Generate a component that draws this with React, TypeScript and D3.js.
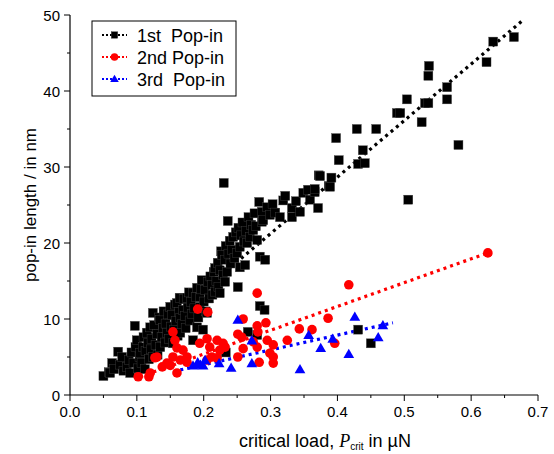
import React from "react";
import { scaleLinear, line, symbol, symbolTriangle, range } from "d3";

// data: [critical load in µN, pop-in length in nm]
const firstPopIn: [number, number][] = [
  [0.050, 2.5], [0.058, 3.0], [0.060, 2.9], [0.063, 4.2], [0.066, 3.4], [0.072, 5.7], [0.075, 4.0],
  [0.078, 5.0], [0.080, 3.2], [0.085, 3.7], [0.088, 4.6], [0.090, 2.9], [0.092, 5.6], [0.095, 4.2],
  [0.097, 9.1], [0.098, 6.3], [0.100, 7.2], [0.102, 3.5], [0.104, 5.0], [0.105, 5.5], [0.107, 4.2],
  [0.109, 6.3], [0.110, 7.6], [0.112, 3.4], [0.113, 5.8], [0.115, 8.2], [0.117, 6.8], [0.118, 4.7],
  [0.120, 8.9], [0.121, 6.0], [0.122, 7.4], [0.124, 10.8], [0.124, 5.0], [0.126, 9.2], [0.128, 6.6],
  [0.130, 8.0], [0.131, 5.3], [0.133, 10.2], [0.135, 9.9], [0.135, 6.3], [0.137, 7.6], [0.139, 8.8],
  [0.140, 11.0], [0.142, 6.9], [0.143, 9.4], [0.145, 8.2], [0.147, 10.6], [0.148, 7.4], [0.150, 11.6],
  [0.151, 9.0], [0.153, 10.5], [0.154, 6.8], [0.156, 8.6], [0.157, 11.9], [0.158, 9.7], [0.160, 12.1],
  [0.161, 7.8], [0.163, 10.9], [0.164, 12.8], [0.165, 8.2], [0.165, 10.1], [0.167, 9.3], [0.169, 11.2],
  [0.170, 12.6], [0.172, 10.4], [0.173, 8.8], [0.175, 12.8], [0.176, 11.5], [0.178, 13.5], [0.179, 9.8],
  [0.181, 12.2], [0.182, 10.7], [0.184, 13.4], [0.184, 7.2], [0.186, 11.4], [0.188, 12.9], [0.190, 14.1],
  [0.190, 8.9], [0.192, 10.2], [0.194, 12.9], [0.194, 11.6], [0.196, 13.9], [0.197, 15.1], [0.199, 8.6],
  [0.200, 12.3], [0.202, 13.8], [0.203, 11.0], [0.205, 10.8], [0.206, 14.9], [0.208, 12.7], [0.210, 15.6],
  [0.212, 14.5], [0.213, 13.2], [0.215, 16.2], [0.217, 13.6], [0.217, 16.7], [0.219, 15.0], [0.221, 17.4],
  [0.222, 14.2], [0.224, 16.4], [0.224, 13.4], [0.226, 18.9], [0.227, 18.4], [0.229, 15.8], [0.230, 27.9],
  [0.232, 17.8], [0.232, 14.9], [0.233, 19.6], [0.233, 5.6], [0.235, 16.2], [0.236, 22.9], [0.237, 18.6],
  [0.239, 20.3], [0.240, 17.3], [0.242, 19.1], [0.244, 20.8], [0.246, 18.0], [0.248, 21.4], [0.250, 18.7],
  [0.251, 14.2], [0.252, 22.0], [0.254, 19.5], [0.254, 16.8], [0.256, 21.0], [0.258, 22.7], [0.260, 20.2],
  [0.262, 17.1], [0.263, 21.6], [0.265, 20.0], [0.266, 8.3], [0.267, 23.4], [0.269, 20.8], [0.271, 22.4],
  [0.274, 21.7], [0.276, 23.9], [0.278, 22.2], [0.280, 20.4], [0.280, 7.9], [0.283, 25.4], [0.284, 18.2],
  [0.284, 11.7], [0.287, 24.1], [0.287, 22.8], [0.289, 23.0], [0.291, 11.2], [0.292, 17.8], [0.295, 24.7],
  [0.299, 23.7], [0.303, 25.1], [0.307, 24.0], [0.314, 23.4], [0.319, 25.6], [0.322, 26.2], [0.332, 24.6],
  [0.332, 23.4], [0.338, 25.5], [0.344, 24.1], [0.349, 26.6], [0.356, 27.0], [0.359, 25.7], [0.366, 26.7],
  [0.366, 27.1], [0.371, 24.6], [0.372, 28.9], [0.374, 28.8], [0.387, 27.5], [0.389, 27.4], [0.391, 28.6],
  [0.398, 33.8], [0.402, 30.9], [0.429, 35.0], [0.431, 30.4], [0.438, 32.2], [0.441, 30.5], [0.458, 35.0],
  [0.489, 37.1], [0.494, 37.1], [0.504, 38.9], [0.506, 25.7], [0.526, 35.9], [0.531, 38.4], [0.536, 38.4],
  [0.536, 42.0], [0.537, 43.3], [0.564, 38.9], [0.564, 40.5], [0.581, 32.9], [0.623, 43.8], [0.633, 46.5],
  [0.664, 47.1], [0.431, 8.6], [0.450, 6.8],
];

const secondPopIn: [number, number][] = [
  [0.102, 2.4], [0.118, 2.4], [0.120, 2.9], [0.127, 4.9], [0.130, 5.0], [0.138, 3.7], [0.145, 4.2],
  [0.150, 3.9], [0.154, 5.0], [0.154, 8.3], [0.157, 7.2], [0.160, 6.2], [0.160, 2.9], [0.165, 4.6],
  [0.169, 5.9], [0.175, 5.0], [0.175, 4.3], [0.191, 11.3], [0.194, 6.8], [0.205, 7.4], [0.205, 4.6],
  [0.206, 10.9], [0.209, 6.3], [0.212, 5.0], [0.220, 7.2], [0.220, 4.9], [0.224, 5.9], [0.229, 6.8],
  [0.232, 6.3], [0.251, 8.0], [0.251, 5.0], [0.257, 7.6], [0.259, 10.0], [0.259, 6.1], [0.274, 7.0],
  [0.280, 13.4], [0.280, 9.1], [0.280, 6.3], [0.281, 8.3], [0.283, 4.3], [0.293, 9.5], [0.295, 7.2],
  [0.299, 5.5], [0.304, 6.6], [0.304, 5.0], [0.304, 4.2], [0.325, 7.2], [0.343, 8.7], [0.362, 8.6],
  [0.386, 10.1], [0.396, 6.8], [0.417, 14.5], [0.625, 18.7],
];

const thirdPopIn: [number, number][] = [
  [0.184, 3.9], [0.191, 4.3], [0.195, 4.0], [0.199, 3.9], [0.202, 4.6], [0.223, 4.2], [0.241, 3.6],
  [0.251, 9.9], [0.272, 7.2], [0.272, 4.2], [0.344, 3.4], [0.357, 7.9], [0.375, 6.2], [0.393, 7.4],
  [0.417, 5.4], [0.426, 10.3], [0.461, 7.6], [0.468, 9.2],
];

// linear fit end points
const firstFit: [number, number][] = [[0.048, 2.5], [0.676, 49.2]];
const secondFit: [number, number][] = [[0.105, 2.4], [0.625, 18.7]];
const thirdFit: [number, number][] = [[0.165, 3.3], [0.483, 9.5]];

const xTicks = [0, 0.1, 0.2, 0.3, 0.4, 0.5, 0.6, 0.7];
const yTicks = [0, 10, 20, 30, 40, 50];
const legendLabels = ["1st\u00a0\u00a0Pop-in", "2nd Pop-in", "3rd\u00a0\u00a0Pop-in"];
const colors = ["#000000", "#ff0000", "#0000ff"];

const W = 554, H = 454;
const font = "'Liberation Sans', Arial, sans-serif";

export default function App() {
  const x = scaleLinear().domain([0, 0.7]).range([70, 538]);
  const y = scaleLinear().domain([0, 50]).range([395, 15]);
  const fitLine = line<[number, number]>().x(d => x(d[0])).y(d => y(d[1]));
  const tri = (s: number) => symbol().type(symbolTriangle).size(s)()!;

  const xMinor = range(0.05, 0.7, 0.1);
  const yMinor = range(5, 50, 10);

  const marker = (i: number, cx: number, cy: number, big: boolean, key?: any) => {
    if (i === 0) {
      const s = big ? 9 : 6.5;
      return <rect key={key} x={cx - s / 2} y={cy - s / 2} width={s} height={s} fill="#000" stroke="#444" strokeWidth={0.4} />;
    }
    if (i === 1) return <circle key={key} cx={cx} cy={cy} r={big ? 4.8 : 3.8} fill="#ff0000" />;
    return <path key={key} d={tri(big ? 50 : 32)} transform={`translate(${cx},${cy + (big ? 1 : 0.6)})`} fill="#0000ff" />;
  };

  return (
    <svg width={W} height={H} style={{ position: "absolute", left: 0, top: 0, background: "#fff" }} fontFamily={font}>
      {/* axes */}
      <line x1={70} x2={70} y1={15} y2={395} stroke="#000" strokeWidth={1.2} />
      <line x1={70} x2={538} y1={395} y2={395} stroke="#000" strokeWidth={1.2} />
      {yTicks.map(t => (
        <g key={"y" + t}>
          <line x1={64} x2={70} y1={y(t)} y2={y(t)} stroke="#000" />
          <text x={60} y={y(t) + 5.5} fontSize={15} textAnchor="end">{t}</text>
        </g>
      ))}
      {yMinor.map(t => <line key={"ym" + t} x1={67} x2={70} y1={y(t)} y2={y(t)} stroke="#000" />)}
      {xTicks.map(t => (
        <g key={"x" + t}>
          <line x1={x(t)} x2={x(t)} y1={395} y2={401} stroke="#000" />
          <text x={x(t)} y={417} fontSize={15} textAnchor="middle">{t.toFixed(1)}</text>
        </g>
      ))}
      {xMinor.map(t => <line key={"xm" + t} x1={x(t)} x2={x(t)} y1={395} y2={398} stroke="#000" />)}

      <text transform={`translate(36,205) rotate(-90)`} fontSize={17} textAnchor="middle">pop-in length / in nm</text>
      <text x={325} y={447} fontSize={18} textAnchor="middle">
        critical load, <tspan fontFamily="'Liberation Serif', 'Times New Roman', serif" fontStyle="italic">P</tspan>
        <tspan fontSize={10} dy={3}>crit</tspan>
        <tspan dy={-3}> in µN</tspan>
      </text>

      {/* fit lines */}
      {[firstFit, secondFit, thirdFit].map((f, i) => (
        <path key={"f" + i} d={fitLine(f)!} stroke={colors[i]} strokeWidth={3.2} strokeDasharray="3 4" fill="none" />
      ))}

      {/* scatter */}
      <g>{firstPopIn.map((d, j) => marker(0, x(d[0]), y(d[1]), true, "a" + j))}</g>
      <g>{secondPopIn.map((d, j) => marker(1, x(d[0]), y(d[1]), true, "b" + j))}</g>
      <g>{thirdPopIn.map((d, j) => marker(2, x(d[0]), y(d[1]), true, "c" + j))}</g>

      {/* legend */}
      <rect x={92} y={21} width={144} height={75} fill="#fff" stroke="#000" strokeWidth={1} />
      {legendLabels.map((lab, i) => {
        const ly = 35 + i * 22;
        return (
          <g key={"l" + i}>
            <line x1={102} x2={127} y1={ly} y2={ly} stroke={colors[i]} strokeWidth={2} strokeDasharray="2 2" />
            {marker(i, 114.5, ly, false)}
            <text x={137} y={ly + 6.5} fontSize={18}>{lab}</text>
          </g>
        );
      })}
    </svg>
  );
}
